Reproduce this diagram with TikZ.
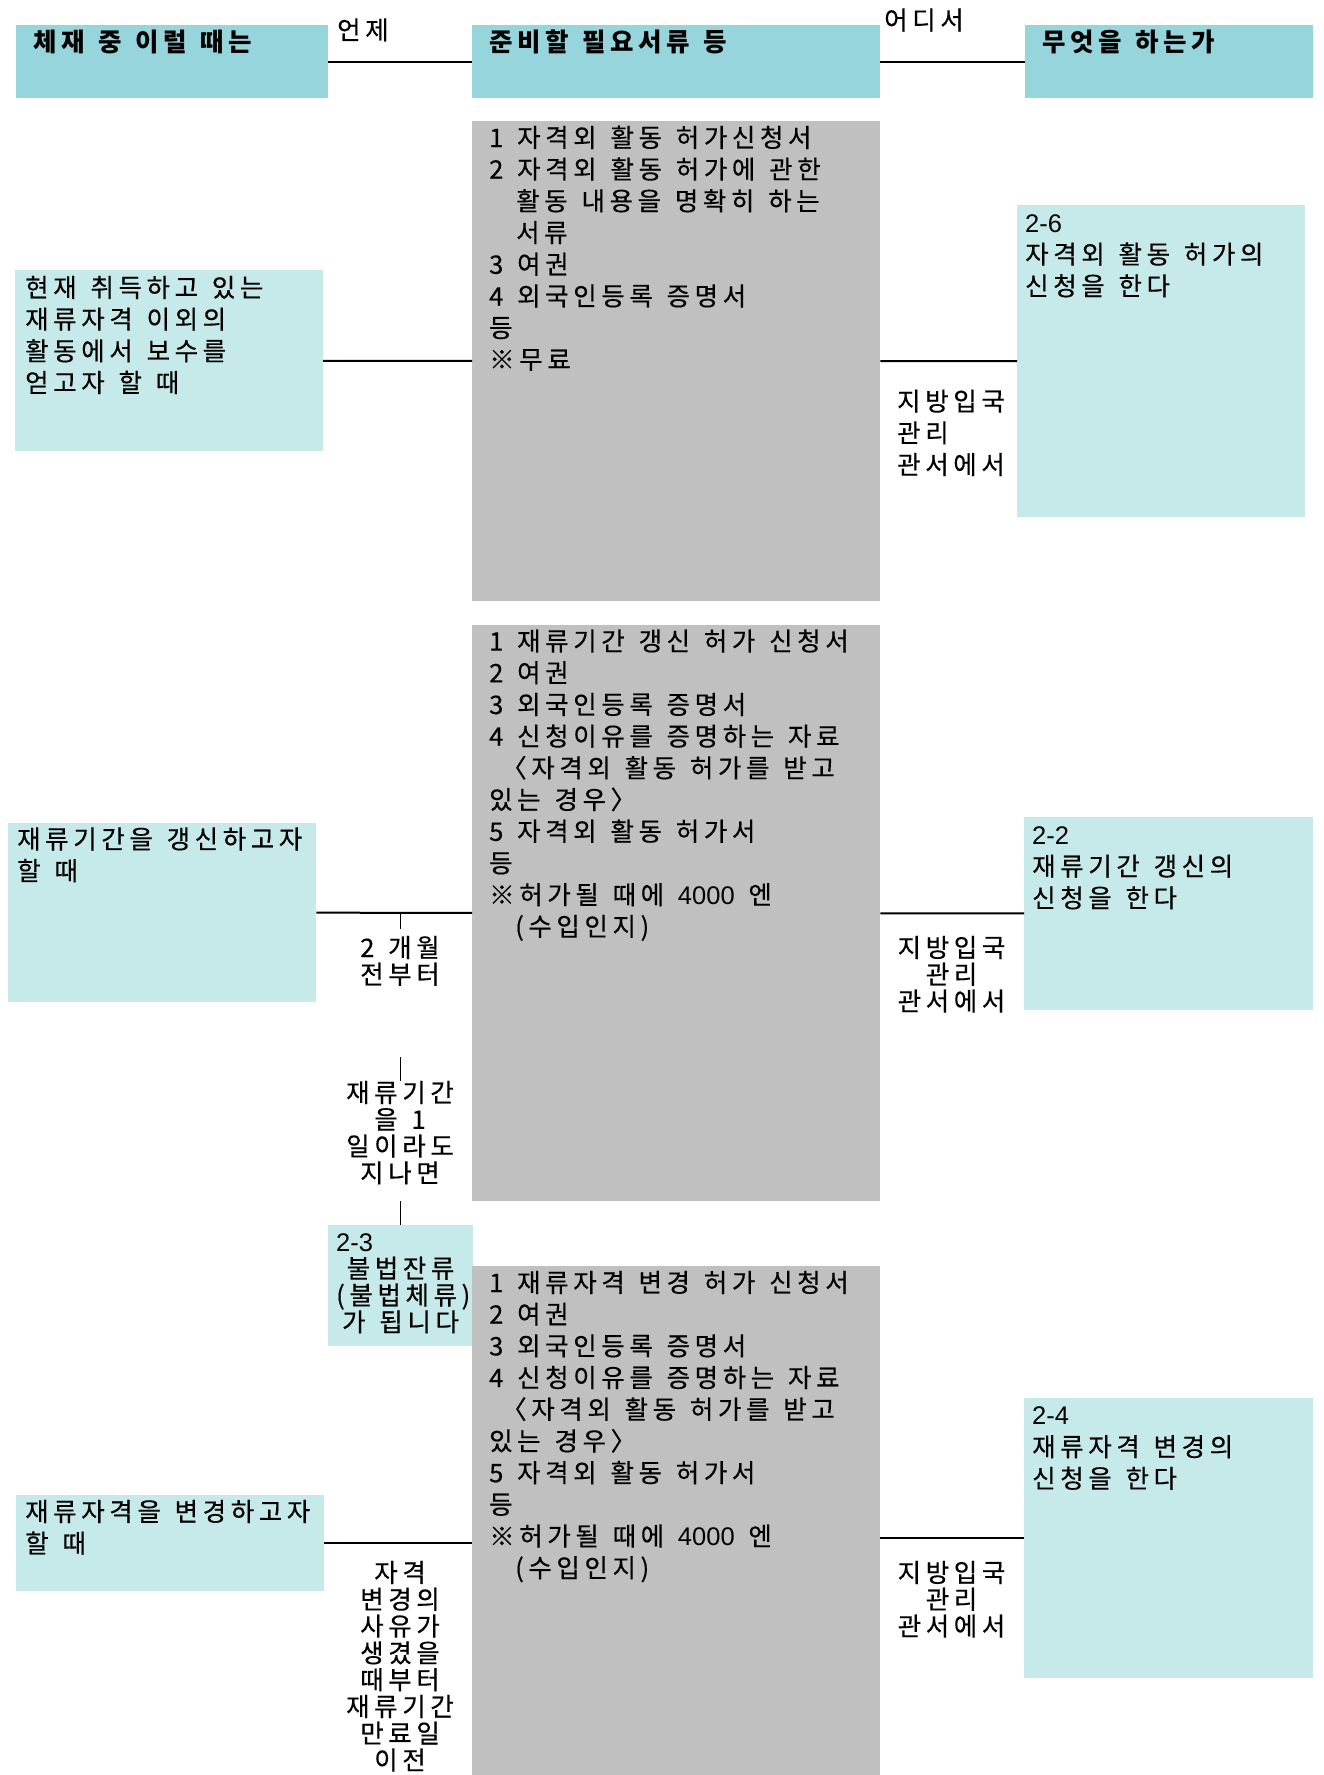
\documentclass[tikz,border=0pt]{standalone}
\usepackage{fontspec}
\setmainfont{Noto Sans CJK KR}[LetterSpace = 18, UprightFeatures = {FakeBold = 0.4}]
\newfontfamily\codefont{Liberation Sans}
\usepackage{tikz}
\usetikzlibrary{positioning}
\definecolor{HeadCyan}{RGB}{150,213,219}
\definecolor{PaleCyan}{RGB}{198,233,234}
\definecolor{DocGray}{RGB}{192,192,192}
\tikzset{
head/.style = {fill = HeadCyan, anchor = north west, inner sep = 0pt, minimum height = 72.7pt},
pale/.style = {fill = PaleCyan, anchor = north west, inner sep = 0pt},
docs/.style = {fill = DocGray, anchor = north west, inner sep = 0pt, minimum width = 408pt},
txt/.style = {inner sep = 0pt, text width = #1, align = flush left, anchor = base west,
    font = {\fontsize{25.5}{31.7}\selectfont\spaceskip 13.8pt\relax}},
headtxt/.style = {txt = 290pt, font = {\bfseries\fontsize{25.5}{31.7}\selectfont\spaceskip 13.8pt\relax}},
tight/.style = {inner sep = 0pt, text width = #1, align = flush center, anchor = base,
    font = {\fontsize{25.5}{26.8}\selectfont\spaceskip 13.8pt\relax}},
link/.style = {line width = 2pt},
tick/.style = {line width = 1.3pt}
}

\begin{document}
\begin{tikzpicture}[x = 1pt, y = -1pt]
            \useasboundingbox (0,0) rectangle (1324,1775);

            \node[head, minimum width = 312pt] (hdrWhen) at (16,25) {};
            \node[head, minimum width = 408pt] (hdrDocs) at (472,25) {};
            \node[head, minimum width = 288pt] (hdrWhat) at (1025,25) {};
            \node[headtxt] (hdrWhenText) at ([shift = {(16.8,26.5)}]hdrWhen.north west) {체재 중 이럴 때는};
            \node[headtxt] (hdrDocsText) at ([shift = {(16.8,26.5)}]hdrDocs.north west) {준비할 필요서류 등};
            \node[headtxt] (hdrWhatText) at ([shift = {(16.8,26.5)}]hdrWhat.north west) {무엇을 하는가};
            \draw[link] (hdrWhen) -- (hdrDocs);
            \draw[link] (hdrDocs) -- (hdrWhat);
            \node[txt = 80pt] (whenLabel) at (337,39.5) {언제};
            \node[txt = 100pt] (whereLabel) at (884,29.5) {어디서};

            \node[pale, minimum width = 307.7pt, minimum height = 180.7pt] (whenWork) at (15,270) {};
            \node[docs, minimum height = 480pt] (docWork) at (472,121) {};
            \node[pale, minimum width = 288pt, minimum height = 311.6pt] (whatWork) at (1017,205) {};
            \node[txt = 298pt] (whenWorkText) at ([shift = {(10,27)}]whenWork.north west)
                {현재 취득하고 있는\\재류자격 이외의\\활동에서 보수를\\얻고자 할 때};
            \node[txt = 400pt] (docWorkText) at ([shift = {(17,26)}]docWork.north west)
                {1 자격외 활동 허가신청서\\2 자격외 활동 허가에 관한\\\hspace*{27pt}활동 내용을 명확히 하는\\\hspace*{27pt}서류\\3 여권\\4 외국인등록 증명서\\등\\※무료};
            \node[txt = 285pt] (whatWorkText) at ([shift = {(8,27)}]whatWork.north west)
                {{\codefont 2-6}\\자격외 활동 허가의\\신청을 한다};
            \node[txt = 125pt] (whereWork) at (897,410.7) {지방입국\\관리\\관서에서};
            \draw[link] (whenWork) -- (docWork);
            \draw[link] (docWork) -- (whatWork);

            \node[pale, minimum width = 308pt, minimum height = 179.5pt] (whenStay) at (8,822.5) {};
            \node[docs, minimum height = 576pt] (docStay) at (472,625) {};
            \node[pale, minimum width = 289pt, minimum height = 192.5pt] (whatStay) at (1024,817) {};
            \node[txt = 305pt] (whenStayText) at ([shift = {(9,26)}]whenStay.north west)
                {재류기간을 갱신하고자\\할 때};
            \node[txt = 400pt] (docStayText) at ([shift = {(17,25.6)}]docStay.north west)
                {1 재류기간 갱신 허가 신청서\\2 여권\\3 외국인등록 증명서\\4 신청이유를 증명하는 자료\\\hspace*{12pt}〈자격외 활동 허가를 받고\\있는 경우〉\\5 자격외 활동 허가서\\등\\※허가될 때에 {\codefont 4000} 엔\\\hspace*{26pt}(수입인지)};
            \node[txt = 285pt] (whatStayText) at ([shift = {(8,27)}]whatStay.north west)
                {{\codefont 2-2}\\재류기간 갱신의\\신청을 한다};
            \node[tight = 140pt] (whereStay) at (951.5,957) {지방입국\\관리\\관서에서};
            \draw[link] (whenStay) -- (docStay);
            \draw[link] (docStay) -- (whatStay);

            \node[pale, minimum width = 144.7pt, minimum height = 120.6pt] (illegal) at (328,1225) {};
            \node[tight = 128.7pt, anchor = base west] (illegalText) at ([shift = {(8,26)}]illegal.north west)
                {\makebox[\linewidth][l]{\codefont 2-3}\\불법잔류\\(불법체류)\\가 됩니다};
            \node[tight = 150pt] (twoMonths) at (400,957) {2 개월\\전부터};
            \node[tight = 150pt] (overstay) at (400,1102) {재류기간\\을 1\\일이라도\\지나면};
            \coordinate (stayTick) at (illegal.north |- whenStay.east);
            \coordinate (gapA) at (illegal.north |- 0,929);
            \coordinate (gapB) at (illegal.north |- 0,1057);
            \coordinate (gapC) at (illegal.north |- 0,1081);
            \coordinate (gapD) at (illegal.north |- 0,1201);
            \draw[tick] (stayTick) -- (gapA);
            \draw[tick] (gapB) -- (gapC);
            \draw[tick] (gapD) -- (illegal.north);

            \node[pale, minimum width = 308pt, minimum height = 95.5pt] (whenChange) at (16,1495) {};
            \node[docs, minimum height = 510pt] (docChange) at (472,1266) {};
            \node[pale, minimum width = 289pt, minimum height = 280.5pt] (whatChange) at (1024,1397.5) {};
            \node[txt = 305pt] (whenChangeText) at ([shift = {(9,26)}]whenChange.north west)
                {재류자격을 변경하고자\\할 때};
            \node[txt = 400pt] (docChangeText) at ([shift = {(17,26)}]docChange.north west)
                {1 재류자격 변경 허가 신청서\\2 여권\\3 외국인등록 증명서\\4 신청이유를 증명하는 자료\\\hspace*{12pt}〈자격외 활동 허가를 받고\\있는 경우〉\\5 자격외 활동 허가서\\등\\※허가될 때에 {\codefont 4000} 엔\\\hspace*{26pt}(수입인지)};
            \node[txt = 285pt] (whatChangeText) at ([shift = {(8,27)}]whatChange.north west)
                {{\codefont 2-4}\\재류자격 변경의\\신청을 한다};
            \node[tight = 140pt] (whereChange) at (951.5,1582) {지방입국\\관리\\관서에서};
            \node[tight = 150pt] (changeWhen) at (400,1582)
                {자격\\변경의\\사유가\\생겼을\\때부터\\재류기간\\만료일\\이전};
            \draw[link] (whenChange.east) -- (whenChange.east -| docChange.west);
            \draw[link] (docChange.east |- whatChange.west) -- (whatChange.west);
\end{tikzpicture}
\end{document}
